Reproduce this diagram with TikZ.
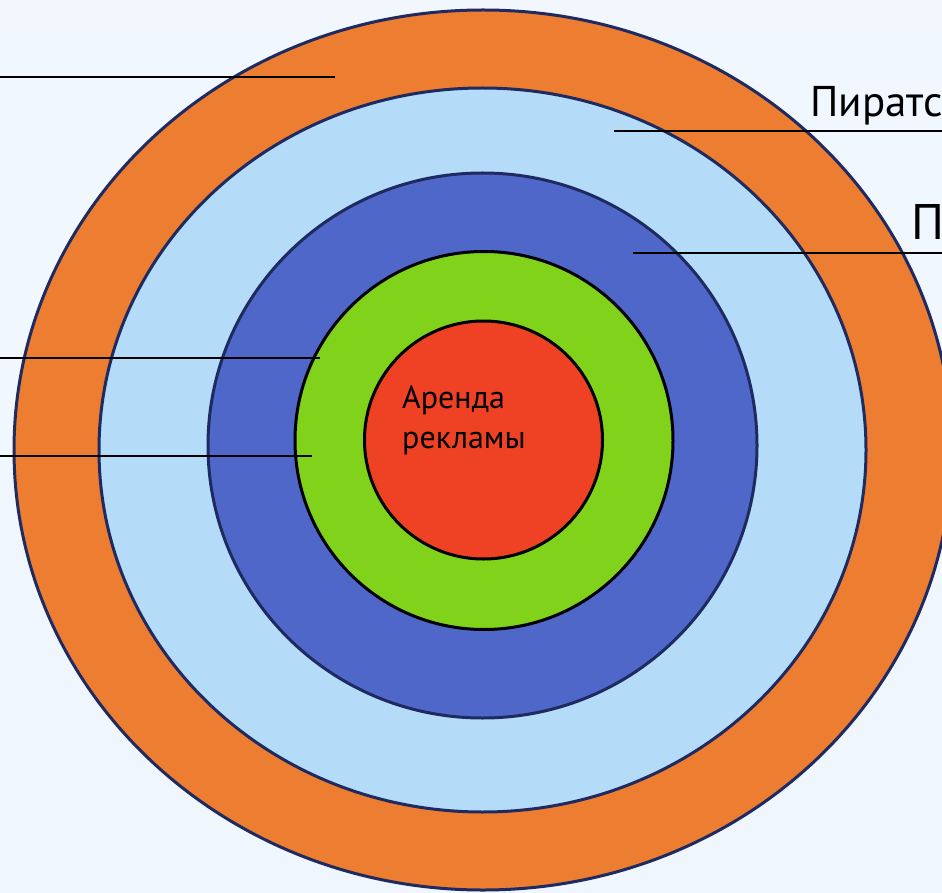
\documentclass[tikz,border=0pt]{standalone}
\usepackage{fontspec}
\setmainfont{PT Sans}
\definecolor{ringorange}{HTML}{ED7D31}
\definecolor{ringlight}{HTML}{B4DBF8}
\definecolor{ringdark}{HTML}{4F67C9}
\definecolor{ringgreen}{HTML}{80D31A}
\definecolor{ringred}{HTML}{EF4124}
\definecolor{navy}{HTML}{1F2A60}
\definecolor{bga}{HTML}{E4F0FB}
\definecolor{bgb}{HTML}{E8F2FC}
\definecolor{bgc}{HTML}{D4E7F8}
\definecolor{bgd}{HTML}{E8F2FC}
\definecolor{bge}{HTML}{F3F8FE}
\definecolor{bgf}{HTML}{F7FAFE}
\pgfdeclareverticalshading{bgshade}{942bp}{
  color(0bp)=(bga);
  color(120bp)=(bgb);
  color(190bp)=(bgc);
  color(280bp)=(bgd);
  color(500bp)=(bge);
  color(893bp)=(bgf)}
\tikzset{
  ringnavy/.style={draw=navy, line width=3pt},
  ringblack/.style={draw=black, line width=3pt},
  leader/.style={draw=black, line width=1.8pt},
  lbl/.style={inner sep=0pt, anchor=base west, text=black}
}
\begin{document}
\begin{tikzpicture}[x=1pt,y=-1pt]
\useasboundingbox (0,0) rectangle (942,893);
\clip (0,0) rectangle (942,893);
\path[shading=bgshade] (0,0) rectangle (942,893);
% rings
\path[ringnavy, fill=ringorange] (483,450) ellipse [x radius=469, y radius=440];
\path[ringnavy, fill=ringlight] (482.5,450) ellipse [x radius=383.5, y radius=362];
\path[ringnavy, fill=ringdark] (482.5,445.5) ellipse [x radius=274.5, y radius=272.5];
\path[ringblack, fill=ringgreen] (484,440.5) circle [radius=189];
\path[ringblack, fill=ringred] (483.5,440) circle [radius=119];
\node[lbl, align=left, font=\fontsize{32}{40}\selectfont] (core) at (402,448) {Аренда\\рекламы};
% leader endpoints
\coordinate (l1a) at (0,77);   \coordinate (l1b) at (335,77);
\coordinate (l2a) at (614,131); \coordinate (l2b) at (942,131);
\coordinate (l3a) at (633,253); \coordinate (l3b) at (942,253);
\coordinate (l4a) at (0,358);  \coordinate (l4b) at (320,358);
\coordinate (l5a) at (0,456);  \coordinate (l5b) at (312,456);
\draw[leader] (l1a) -- (l1b);
\draw[leader] (l2a) -- (l2b);
\draw[leader] (l3a) -- (l3b);
\draw[leader] (l4a) -- (l4b);
\draw[leader] (l5a) -- (l5b);
\node[lbl, font=\fontsize{43}{48}\selectfont] (pir) at (810,117) {Пиратс};
\node[lbl, font=\fontsize{50}{58}\selectfont] (p2) at (911,240) {П};
\end{tikzpicture}
\end{document}
